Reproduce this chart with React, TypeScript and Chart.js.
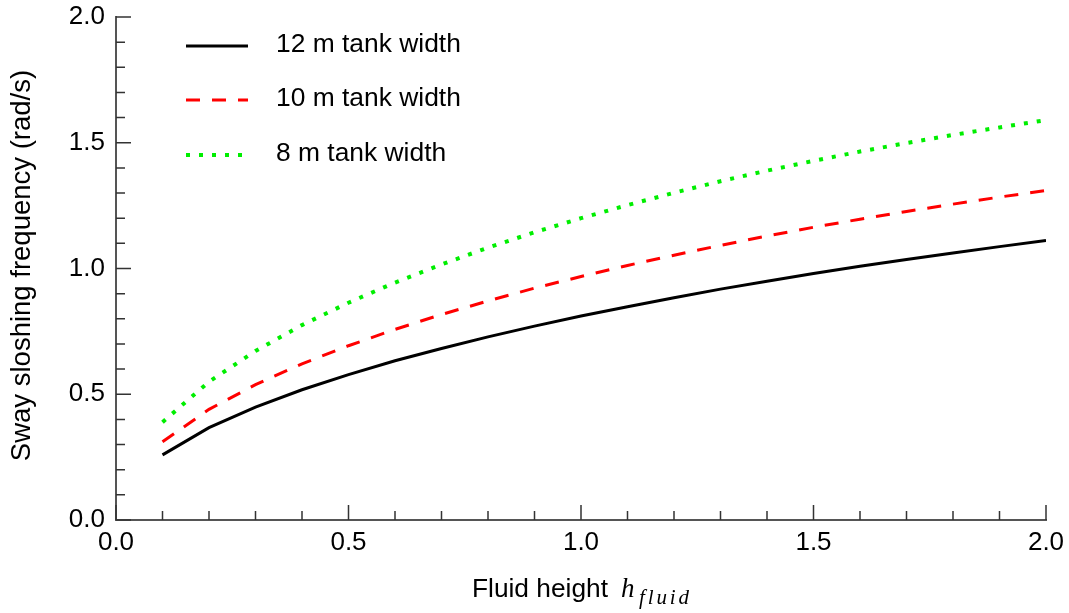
import React, { useEffect, useRef } from 'react';
import { Chart, registerables } from 'chart.js';

Chart.register(...registerables);

// ---- data ----
const fluidHeights = [0.1, 0.2, 0.3, 0.4, 0.5, 0.6, 0.7, 0.8, 0.9, 1.0, 1.1, 1.2, 1.3, 1.4, 1.5, 1.6, 1.7, 1.8, 1.9, 2.0];
const freq12m = [0.259, 0.367, 0.449, 0.518, 0.578, 0.633, 0.682, 0.728, 0.771, 0.811, 0.848, 0.884, 0.918, 0.949, 0.980, 1.009, 1.036, 1.062, 1.087, 1.111];
const freq10m = [0.311, 0.440, 0.538, 0.621, 0.693, 0.758, 0.817, 0.871, 0.922, 0.968, 1.012, 1.053, 1.092, 1.129, 1.164, 1.196, 1.227, 1.256, 1.284, 1.310];
const freq8m = [0.389, 0.550, 0.672, 0.775, 0.864, 0.944, 1.016, 1.083, 1.144, 1.200, 1.252, 1.301, 1.347, 1.389, 1.428, 1.465, 1.499, 1.531, 1.561, 1.590];
const seriesLabels = ['12 m tank width', '10 m tank width', '8 m tank width'];
const majorTicks = [0, 0.5, 1.0, 1.5, 2.0];
const minorTicks = [0.1, 0.2, 0.3, 0.4, 0.6, 0.7, 0.8, 0.9, 1.1, 1.2, 1.3, 1.4, 1.6, 1.7, 1.8, 1.9];
const tickLabels = ['0.0', '0.5', '1.0', '1.5', '2.0'];
const xTitle = 'Fluid height ';
const xTitleVar = 'h';
const xTitleSub = 'fluid';
const yTitle = 'Sway sloshing frequency (rad/s)';

const SANS = "'Liberation Sans', Arial, Helvetica, sans-serif";
const SERIF = "'Liberation Serif', 'Times New Roman', serif";
const AXIS_COLOR = '#555555';

const toPoints = (ys: number[]) => fluidHeights.map((x, i) => ({ x, y: ys[i] }));

const decorPlugin = {
  id: 'decor',
  afterDraw(chart: any) {
    const { ctx, chartArea } = chart;
    const xs = chart.scales.x;
    const ys = chart.scales.y;
    const { left, right, top, bottom } = chartArea;
    ctx.save();
    // axis lines
    ctx.strokeStyle = AXIS_COLOR;
    ctx.lineWidth = 2;
    ctx.beginPath();
    ctx.moveTo(left, top - 1);
    ctx.lineTo(left, bottom);
    ctx.lineTo(right + 1, bottom);
    ctx.stroke();
    // ticks (inward)
    ctx.strokeStyle = '#333333';
    ctx.lineWidth = 1.5;
    ctx.beginPath();
    majorTicks.forEach((v) => {
      const px = xs.getPixelForValue(v);
      ctx.moveTo(px, bottom);
      ctx.lineTo(px, bottom - 15);
      const py = ys.getPixelForValue(v);
      ctx.moveTo(left, py);
      ctx.lineTo(left + 15, py);
    });
    minorTicks.forEach((v) => {
      const px = xs.getPixelForValue(v);
      ctx.moveTo(px, bottom);
      ctx.lineTo(px, bottom - 9);
      const py = ys.getPixelForValue(v);
      ctx.moveTo(left, py);
      ctx.lineTo(left + 9, py);
    });
    ctx.stroke();

    // legend
    const rows = [46, 100, 155];
    chart.data.datasets.forEach((ds: any, i: number) => {
      ctx.save();
      ctx.strokeStyle = ds.borderColor;
      ctx.lineWidth = ds.borderWidth;
      ctx.setLineDash(ds.borderDash || []);
      ctx.lineCap = 'butt';
      ctx.beginPath();
      ctx.moveTo(186, rows[i]);
      ctx.lineTo(248, rows[i]);
      ctx.stroke();
      ctx.restore();
      ctx.fillStyle = '#000';
      ctx.font = `26.4px ${SANS}`;
      ctx.textAlign = 'left';
      ctx.textBaseline = 'middle';
      ctx.fillText(ds.label, 276, rows[i] - 1);
    });

    // x title
    const cx = (left + right) / 2;
    const start = cx - 109;
    ctx.fillStyle = '#000';
    ctx.textBaseline = 'alphabetic';
    ctx.textAlign = 'left';
    ctx.font = `26.3px ${SANS}`;
    ctx.fillText(xTitle, start, 597);
    ctx.font = `italic 27px ${SERIF}`;
    ctx.fillText(xTitleVar, start + 149, 597);
    ctx.font = `italic 21px ${SERIF}`;
    let sx = start + 167;
    const subW = 50;
    const chars = xTitleSub.split('');
    const natural = chars.reduce((s, c) => s + ctx.measureText(c).width, 0);
    const gap = (subW - natural) / (chars.length - 1);
    chars.forEach((c) => {
      ctx.fillText(c, sx, 604);
      sx += ctx.measureText(c).width + gap;
    });

    // y title
    ctx.save();
    ctx.translate(30, (top + bottom) / 2 - 3);
    ctx.rotate(-Math.PI / 2);
    ctx.font = `27.5px ${SANS}`;
    ctx.textAlign = 'center';
    ctx.textBaseline = 'alphabetic';
    ctx.fillText(yTitle, 0, 0);
    ctx.restore();
    ctx.restore();
  },
};

export default function App() {
  const ref = useRef<HTMLCanvasElement>(null);
  useEffect(() => {
    if (!ref.current) return;
    const tickFont = { family: SANS, size: 26 };
    const chart = new Chart(ref.current, {
      type: 'line',
      data: {
        datasets: [
          { label: seriesLabels[0], data: toPoints(freq12m), borderColor: '#000000', borderWidth: 3, pointRadius: 0, tension: 0, fill: false },
          { label: seriesLabels[1], data: toPoints(freq10m), borderColor: '#ff0000', borderWidth: 3, borderDash: [14, 12], pointRadius: 0, tension: 0, fill: false },
          { label: seriesLabels[2], data: toPoints(freq8m), borderColor: '#00ee00', borderWidth: 4, borderDash: [4, 9], pointRadius: 0, tension: 0, fill: false },
        ],
      },
      options: {
        animation: false,
        responsive: false,
        devicePixelRatio: 1,
        layout: { padding: { left: 0, right: 23, top: 17, bottom: 0 } },
        plugins: { legend: { display: false }, tooltip: { enabled: false } },
        scales: {
          x: {
            type: 'linear',
            min: 0,
            max: 2,
            grid: { display: false, drawTicks: false },
            border: { display: false },
            ticks: {
              stepSize: 0.5,
              padding: 7,
              maxRotation: 0,
              color: '#000',
              font: tickFont,
              callback: (v: any) => tickLabels[majorTicks.indexOf(Number(v))] ?? '',
            },
            afterFit: (s: any) => {
              s.height = 93;
              s.paddingLeft = 0; s.paddingRight = 0; s.paddingTop = 0; s.paddingBottom = 0;
            },
          },
          y: {
            type: 'linear',
            min: 0,
            max: 2,
            grid: { display: false, drawTicks: false },
            border: { display: false },
            ticks: {
              stepSize: 0.5,
              padding: 11,
              color: '#000',
              font: tickFont,
              callback: (v: any) => tickLabels[majorTicks.indexOf(Number(v))] ?? '',
            },
            afterFit: (s: any) => {
              s.width = 116;
              s.paddingLeft = 0; s.paddingRight = 0; s.paddingTop = 0; s.paddingBottom = 0;
            },
          },
        },
      },
      plugins: [decorPlugin],
    } as any);
    return () => chart.destroy();
  }, []);
  return (
    <div style={{ position: 'fixed', left: 0, top: 0, width: 1069, height: 613, background: '#fff' }}>
      <canvas ref={ref} width={1069} height={613} style={{ display: 'block', width: 1069, height: 613 }} />
    </div>
  );
}
